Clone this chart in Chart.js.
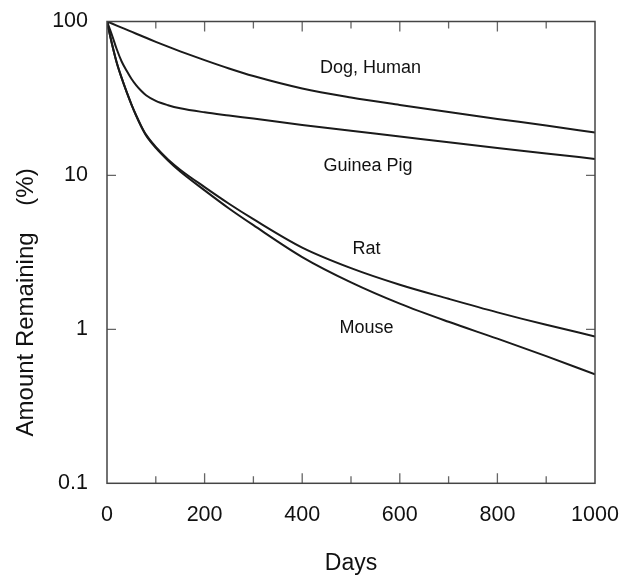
<!DOCTYPE html>
<html>
<head>
<meta charset="utf-8">
<script src="https://cdn.jsdelivr.net/npm/chart.js@4.4.0/dist/chart.umd.min.js"></script>
<style>
  html, body { margin: 0; padding: 0; background: #fff; }
</style>
</head>
<body>
<canvas id="chart" width="622" height="577"></canvas>
<script>
// Tage (x-Achse)
const days = [0, 10, 20, 30, 40, 50, 60, 70, 80, 100, 125, 150, 200, 250, 300, 400, 500, 600, 700, 800, 900, 1000];

// Verbleibende Menge in % je Spezies
const dogHuman  = [100, 97, 94.1, 91.3, 88.6, 85.9, 83.3, 80.8, 78.4, 73.8, 68.6, 64, 56.1, 49.5, 44.2, 36.7, 32.1, 28.7, 25.8, 23.3, 21.1, 19];
const guineaPig = [100, 82, 66, 55, 48, 42.5, 38.5, 35.5, 33.2, 30.5, 28.6, 27.3, 25.7, 24.5, 23.4, 21.3, 19.5, 17.9, 16.4, 15.1, 13.9, 12.8];
const rat       = [100, 72, 54, 43, 35, 29, 24.5, 21, 18.4, 15.3, 12.7, 10.9, 8.4, 6.55, 5.2, 3.4, 2.5, 1.95, 1.58, 1.29, 1.07, 0.9];
const mouse     = [100, 72, 54, 43, 35, 29, 24.3, 20.8, 18.2, 15.1, 12.5, 10.6, 8.0, 6.1, 4.75, 2.95, 2.02, 1.47, 1.12, 0.87, 0.67, 0.51];

// Achsen
const xTickLabels = [0, 200, 400, 600, 800, 1000];
const xTickMarks = [100, 200, 300, 400, 500, 600, 700, 800, 900];
const yTickLabels = [0.1, 1, 10, 100];
const yTickMarks = [1, 10];

// Kurvenbeschriftungen im Diagramm
const seriesNames = ['Dog, Human', 'Guinea Pig', 'Rat', 'Mouse'];
const labelDays = [540, 535, 532, 532];
const labelValues = [50, 11.5, 3.33, 1.02];

const FONT = '"Liberation Sans", Arial, sans-serif';

function toPoints(values) {
    return days.map((d, i) => ({ x: d, y: values[i] }));
}

function lineDataset(name, values) {
    return {
        label: name,
        data: toPoints(values),
        borderColor: '#1a1a1a',
        borderWidth: 2,
        pointRadius: 0,
        fill: false,
        cubicInterpolationMode: 'monotone'
    };
}

// Rahmen, nach innen zeigende Teilstriche und Kurvennamen
const frameAndTicks = {
    id: 'frameAndTicks',
    afterDatasetsDraw(chart) {
        const { ctx, chartArea: a, scales: { x, y } } = chart;
        ctx.save();
        ctx.strokeStyle = '#666';
        ctx.lineWidth = 1.3;
        xTickMarks.forEach(v => {
            const px = x.getPixelForValue(v);
            const len = v % 200 === 0 ? 10 : 7;
            ctx.beginPath();
            ctx.moveTo(px, a.bottom);
            ctx.lineTo(px, a.bottom - len);
            ctx.moveTo(px, a.top);
            ctx.lineTo(px, a.top + len);
            ctx.stroke();
        });
        yTickMarks.forEach(v => {
            const py = y.getPixelForValue(v);
            ctx.beginPath();
            ctx.moveTo(a.left, py);
            ctx.lineTo(a.left + 9, py);
            ctx.moveTo(a.right, py);
            ctx.lineTo(a.right - 9, py);
            ctx.stroke();
        });
        ctx.strokeStyle = '#444';
        ctx.lineWidth = 1.5;
        ctx.strokeRect(a.left, a.top, a.right - a.left, a.bottom - a.top);

        ctx.fillStyle = '#111';
        ctx.font = '18px ' + FONT;
        ctx.textAlign = 'center';
        ctx.textBaseline = 'middle';
        seriesNames.forEach((name, i) => {
            ctx.fillText(name, x.getPixelForValue(labelDays[i]), y.getPixelForValue(labelValues[i]));
        });
        ctx.restore();
    }
};

new Chart(document.getElementById('chart'), {
    type: 'line',
    data: {
        datasets: [
            lineDataset(seriesNames[0], dogHuman),
            lineDataset(seriesNames[1], guineaPig),
            lineDataset(seriesNames[2], rat),
            lineDataset(seriesNames[3], mouse)
        ]
    },
    options: {
        responsive: false,
        animation: false,
        devicePixelRatio: 1,
        layout: { padding: { top: 21.5, right: 27, left: 12, bottom: 0 } },
        plugins: {
            legend: { display: false },
            tooltip: { enabled: false }
        },
        scales: {
            x: {
                type: 'linear',
                min: 0,
                max: 1000,
                afterBuildTicks: scale => { scale.ticks = xTickLabels.map(v => ({ value: v })); },
                afterFit: scale => {
                    scale.height = 93.7;
                    scale.paddingLeft = 0;
                    scale.paddingRight = 0;
                },
                grid: { display: false, drawTicks: false },
                border: { display: false },
                ticks: {
                    color: '#111',
                    padding: 19,
                    maxRotation: 0,
                    font: { family: FONT, size: 21.5 },
                    callback: v => String(v)
                },
                title: {
                    display: true,
                    text: 'Days',
                    color: '#111',
                    padding: 0,
                    font: { family: FONT, size: 23 }
                }
            },
            y: {
                type: 'logarithmic',
                min: 0.1,
                max: 100,
                afterBuildTicks: scale => { scale.ticks = yTickLabels.map(v => ({ value: v })); },
                afterFit: scale => {
                    scale.width = 95;
                    scale.paddingTop = 0;
                    scale.paddingBottom = 0;
                },
                grid: { display: false, drawTicks: false },
                border: { display: false },
                ticks: {
                    color: '#111',
                    padding: 19,
                    font: { family: FONT, size: 21.5 },
                    callback: v => String(v)
                },
                title: {
                    display: true,
                    text: 'Amount Remaining\u00a0\u00a0\u00a0\u00a0(%)\u00a0\u00a0\u00a0\u00a0\u00a0\u00a0\u00a0\u00a0\u00a0\u00a0\u00a0\u00a0\u00a0\u00a0\u00a0',
                    color: '#111',
                    padding: 0,
                    font: { family: FONT, size: 24 }
                }
            }
        }
    },
    plugins: [frameAndTicks]
});
</script>
</body>
</html>
